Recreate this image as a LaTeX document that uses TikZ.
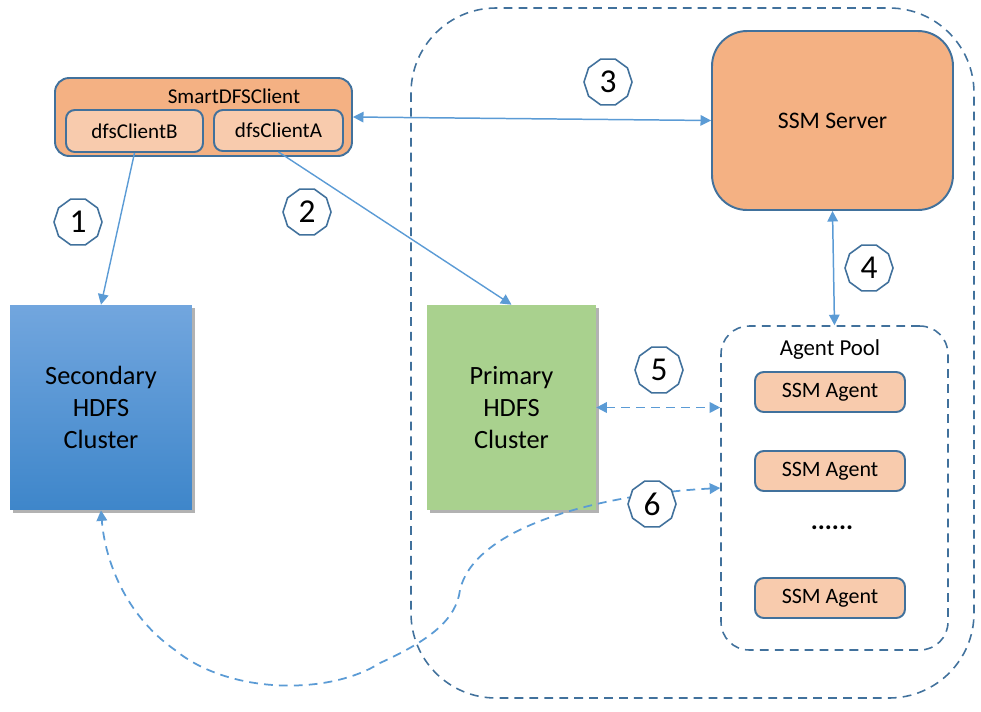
\documentclass[tikz,border=0pt]{standalone}
\usepackage{fontspec}
\setmainfont{Carlito}
\usetikzlibrary{shapes.geometric,arrows.meta,shadows}

\definecolor{linkblue}{RGB}{91,155,213}
\definecolor{edgeblue}{RGB}{65,113,156}
\definecolor{serverorange}{RGB}{244,177,131}
\definecolor{agentorange}{RGB}{248,203,173}
\definecolor{hdfsgreen}{RGB}{169,209,142}
\definecolor{hdfstop}{RGB}{114,166,222}
\definecolor{hdfsbottom}{RGB}{62,134,202}

\tikzset{
	box/.style={draw=edgeblue, line width=1.1pt, rounded corners=5pt, inner sep=0pt},
	badge/.style={regular polygon, regular polygon sides=10, minimum size=0.96cm,
		draw=edgeblue, line width=0.9pt, fill=white, inner sep=0pt, font=\fontsize{19}{19}\selectfont},
	hdfs/.style={minimum height=4.1cm, align=center, inner sep=0pt,
		font=\fontsize{15}{18}\selectfont,
		drop shadow={shadow xshift=1.5pt, shadow yshift=-1.5pt, fill=black, opacity=0.3}},
	link/.style={draw=linkblue, line width=0.85pt, {Triangle[length=6pt,width=6pt]}-{Triangle[length=6pt,width=6pt]}},
	onelink/.style={draw=linkblue, line width=0.8pt, -{Triangle[length=6pt,width=6pt]}},
	dashlink/.style={link, line width=1pt, dash pattern=on 5pt off 3.5pt},
	pooldash/.style={draw=edgeblue, line width=0.9pt, dash pattern=on 5pt off 3.5pt}
}

\begin{document}
\begin{tikzpicture}[x=0.02cm, y=-0.02cm]
	\useasboundingbox (0,0) rectangle (981,711);

	% the SSM side
	\draw[pooldash, rounded corners=1.7cm] (411,8) rectangle (974,698);
	\node[box, fill=serverorange, minimum width=4.82cm, minimum height=3.58cm, rounded corners=0.7cm,
		font=\fontsize{13.5}{16}\selectfont] (server) at (832.5,120.5) {SSM Server};
	\node[pooldash, rounded corners=0.56cm, minimum width=4.54cm, minimum height=6.48cm] (pool) at (834.5,488) {};
	\node[font=\fontsize{13}{15}\selectfont] (poollabel) at (830,350) {Agent Pool};
	\foreach \name/\y in {agenta/392, agentb/471, agentc/598}
		\node[box, fill=agentorange, minimum width=3cm, minimum height=0.8cm,
			font=\fontsize{12.5}{15}\selectfont] (\name) at (830,\y) {SSM Agent};
	\node[font=\fontsize{15}{15}\bfseries] (dots) at (832,528) {......};

	% the client
	\node[box, fill=serverorange, minimum width=5.94cm, minimum height=1.56cm, rounded corners=8pt] (client) at (203.5,117) {};
	\node[font=\fontsize{12}{14}\selectfont] (clientlabel) at (234,96) {SmartDFSClient};
	\node[box, fill=agentorange, minimum width=2.74cm, minimum height=0.84cm,
		font=\fontsize{12}{14}\selectfont] (clientb) at (134.5,131) {dfsClientB};
	\node[box, fill=agentorange, minimum width=2.58cm, minimum height=0.82cm,
		font=\fontsize{12}{14}\selectfont] (clienta) at (278.5,130.5) {dfsClientA};

	% the clusters
	\node[hdfs, minimum width=3.64cm, top color=hdfstop, bottom color=hdfsbottom] (secondary) at (101,407.5) {Secondary\\HDFS\\Cluster};
	\node[hdfs, minimum width=3.38cm, fill=hdfsgreen] (primary) at (511.5,407.5) {Primary\\HDFS\\Cluster};

	% connectors
	\draw[onelink] (clientb.south) -- (secondary.north);
	\draw[onelink] (clienta.south) -- (primary.north);
	\draw[link] (client.east) -- (server.west);
	\draw[link] (server.south) -- (pool.north);
	\draw[dashlink] (primary.east) -- (primary.east -| pool.west);
	\draw[dashlink] (pool.west) .. controls (605,494) and (475,525) .. (460,590)
		.. controls (456,620) and (430,640) .. (380,663)
		.. controls (330,695) and (230,695) .. (175,650)
		.. controls (125,615) and (105,560) .. (secondary.south);

	% numbers
	\node[badge] (n1) at (78,222) {1};
	\node[badge] (n2) at (307,212) {2};
	\node[badge] (n3) at (608,82) {3};
	\node[badge] (n4) at (869,268) {4};
	\node[badge] (n5) at (659,370) {5};
	\node[badge] (n6) at (652,504) {6};
\end{tikzpicture}
\end{document}
